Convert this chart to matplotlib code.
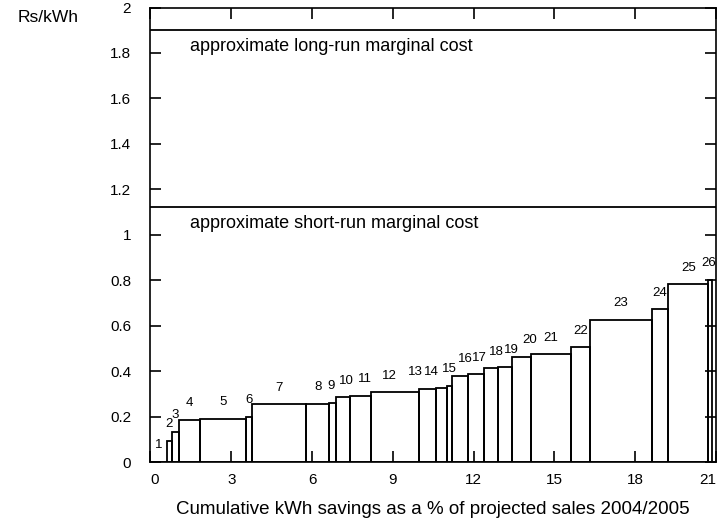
import matplotlib.pyplot as plt
import numpy as np

# conservation measures: share of projected sales saved (%) and cost (Rs/kWh)
measureIds = [str(i) for i in range(1, 27)]
savingsPct = [0.60, 0.19, 0.28, 0.77, 1.71, 0.23, 2.00, 0.86, 0.26, 0.52,
              0.77, 1.79, 0.63, 0.40, 0.18, 0.60, 0.58, 0.52, 0.53, 0.71,
              1.48, 0.72, 2.29, 0.62, 1.48, 0.15]
costRs = [0.0, 0.092, 0.132, 0.185, 0.19, 0.198, 0.254, 0.255, 0.261, 0.285,
          0.29, 0.307, 0.321, 0.324, 0.336, 0.379, 0.386, 0.412, 0.419, 0.463,
          0.474, 0.505, 0.625, 0.672, 0.782, 0.801]

longRunCost = 1.9
shortRunCost = 1.12

xTicks = [0, 3, 6, 9, 12, 15, 18, 21]
yTicks = [0, 0.2, 0.4, 0.6, 0.8, 1, 1.2, 1.4, 1.6, 1.8, 2]
yTickLabels = ['0', '0.2', '0.4', '0.6', '0.8', '1', '1.2', '1.4', '1.6', '1.8', '2']

# sideways nudges (points) so crowded numbers don't run into each other
labelShift = {'9': -1, '10': 2, '11': 3, '12': -4, '13': -9, '14': -7,
              '15': 0, '16': 4, '17': 3, '18': 4, '19': 5, '20': 6, '26': -1}

plt.rcParams['font.family'] = ['Liberation Sans', 'DejaVu Sans']

fig = plt.figure(figsize=(7.18, 5.25), dpi=100)
ax = fig.add_axes([0.2096, 0.12, 0.7874, 0.8657])

widths = np.array(savingsPct)
lefts = np.concatenate([[0], np.cumsum(widths)[:-1]])
ax.bar(lefts, costRs, width=widths, align='edge', fill=False,
       edgecolor='black', linewidth=1.3)

for i in range(len(measureIds)):
    dx = labelShift.get(measureIds[i], 0)
    ax.annotate(measureIds[i], (lefts[i] + widths[i] / 2, costRs[i]),
                xytext=(dx, 12), textcoords='offset points',
                ha='center', va='center', fontsize=9.5)

ax.axhline(longRunCost, color='black', linewidth=1.3)
ax.axhline(shortRunCost, color='black', linewidth=1.3)
ax.text(1.45, 1.83, 'approximate long-run marginal cost', fontsize=13, va='center')
ax.text(1.45, 1.05, 'approximate short-run marginal cost', fontsize=13, va='center')

ax.set_xlim(0, 21)
ax.set_ylim(0, 2)
ax.set_xticks(xTicks)
ax.set_yticks(yTicks)
ax.set_yticklabels(yTickLabels)
ax.tick_params(direction='in', length=8, width=1.2, labelsize=11,
               top=True, right=True)
ax.tick_params(axis='y', pad=14)
ax.tick_params(axis='x', pad=8)
xLabels = ax.get_xticklabels()
xLabels[0].set_horizontalalignment('left')
xLabels[-1].set_horizontalalignment('right')
for s in ax.spines.values():
    s.set_linewidth(1.2)

fig.text(18 / 718, 1 - 17 / 525, 'Rs/kWh', fontsize=12.5, va='center')
fig.text(433 / 718, 1 - 510 / 525,
         'Cumulative kWh savings as a % of projected sales 2004/2005',
         fontsize=13.5, ha='center', va='center')

plt.savefig('out.png', dpi=100)
